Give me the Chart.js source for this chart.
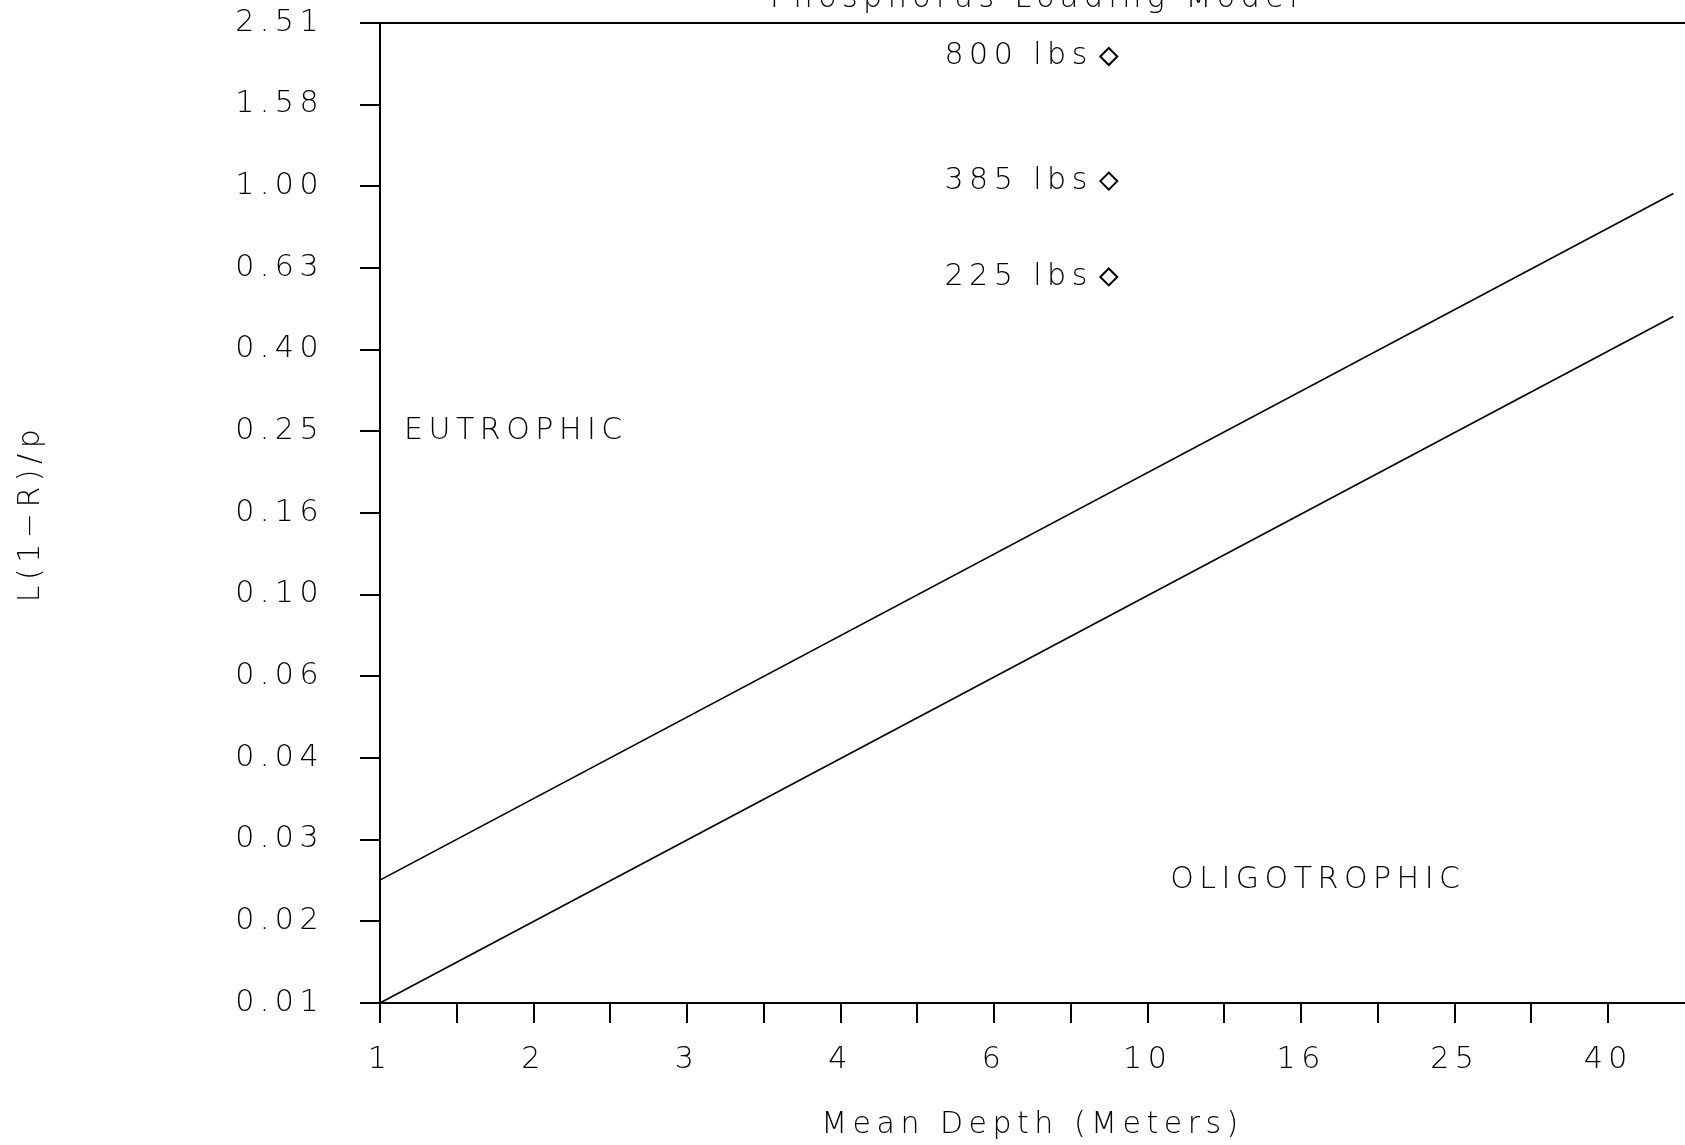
<!DOCTYPE html>
<html>
<head>
<meta charset="utf-8">
<title>Phosphorus Loading Model</title>
<script src="https://cdn.jsdelivr.net/npm/chart.js@4.4.1/dist/chart.umd.min.js"></script>
<style>
  html, body { margin: 0; padding: 0; background: #fff; }
  canvas { display: block; }
</style>
</head>
<body>
<canvas id="chart" width="1685" height="1145"></canvas>
<script>
/* ==========================================================================
   Phosphorus loading model - log/log plot, ticks every 0.2 decade
   ========================================================================== */

// Mean depth axis (m)
const depthTicks = [1, 1.585, 2.512, 3.981, 6.310, 10, 15.85, 25.12, 39.81];
const depthLabels = ['1', '2', '3', '4', '6', '10', '16', '25', '40'];

// L(1-R)/p axis
const loadTicks = [0.01, 0.01585, 0.02512, 0.03981, 0.0631, 0.1, 0.1585, 0.2512, 0.3981, 0.631, 1, 1.585, 2.512];
const loadLabels = ['0.01', '0.02', '0.03', '0.04', '0.06', '0.10', '0.16', '0.25', '0.40', '0.63', '1.00', '1.58', '2.51'];

// Boundary lines (depth, value)
const upperLineDepth = [1, 48.4];
const upperLineValue = [0.02, 0.96];
const lowerLineDepth = [1, 48.4];
const lowerLineValue = [0.01, 0.48];

// Loading points
const pointLabels = ['800 lbs', '385 lbs', '225 lbs'];
const pointDepths = [8.9, 8.9, 8.9];
const pointValues = [2.08, 1.03, 0.60];

const FONT = "'DejaVu Sans', 'Liberation Sans', sans-serif";
const SPACING = '5.5px';

function toXY(xs, ys) {
  return xs.map((x, i) => ({ x: x, y: ys[i] }));
}

// major depth ticks plus an unlabelled tick halfway (in log) between each pair
function depthTickList() {
  const list = [];
  depthTicks.forEach((v, i) => {
    list.push({ value: v, label: depthLabels[i] });
    if (i < depthTicks.length - 1) {
      list.push({ value: Math.sqrt(v * depthTicks[i + 1]), label: '' });
    }
  });
  return list;
}

Chart.defaults.font.family = FONT;
Chart.defaults.font.size = 30;
Chart.defaults.font.weight = 200;
Chart.defaults.font.lineHeight = 1.2;
Chart.defaults.color = '#000';

const annotations = {
  id: 'annotations',
  beforeDraw(chart) {
    chart.ctx.letterSpacing = SPACING;
  },
  afterDatasetsDraw(chart) {
    const ctx = chart.ctx;
    const xs = chart.scales.x;
    const ys = chart.scales.y;
    const area = chart.chartArea;
    ctx.save();
    ctx.letterSpacing = SPACING;
    ctx.fillStyle = '#000';
    ctx.font = '200 30px ' + FONT;

    // labels next to the loading points
    ctx.textAlign = 'right';
    ctx.textBaseline = 'middle';
    chart.getDatasetMeta(2).data.forEach((pt, i) => {
      ctx.fillText(pointLabels[i], pt.x - 16, pt.y);
    });

    // trophic zones
    ctx.textAlign = 'left';
    ctx.fillText('EUTROPHIC', xs.getPixelForValue(1.075), ys.getPixelForValue(0.2512));
    ctx.fillText('OLIGOTROPHIC', xs.getPixelForValue(10.7), ys.getPixelForValue(0.02));

    // title, mostly cut off at the top edge
    ctx.textAlign = 'center';
    ctx.textBaseline = 'alphabetic';
    ctx.fillText('Phosphorus Loading Model', (area.left + area.right) / 2 + 4, 7);

    // top frame line
    ctx.strokeStyle = '#000';
    ctx.lineWidth = 2;
    ctx.beginPath();
    ctx.moveTo(area.left, area.top);
    ctx.lineTo(area.right, area.top);
    ctx.stroke();
    ctx.restore();
  }
};

new Chart(document.getElementById('chart'), {
  type: 'scatter',
  data: {
    datasets: [
      {
        data: toXY(upperLineDepth, upperLineValue),
        showLine: true,
        borderColor: '#000',
        borderWidth: 1.6,
        pointRadius: 0
      },
      {
        data: toXY(lowerLineDepth, lowerLineValue),
        showLine: true,
        borderColor: '#000',
        borderWidth: 1.6,
        pointRadius: 0
      },
      {
        data: toXY(pointDepths, pointValues),
        showLine: false,
        pointStyle: 'rectRot',
        pointRadius: 8.5,
        pointBackgroundColor: '#fff',
        pointBorderColor: '#000',
        pointBorderWidth: 2
      }
    ]
  },
  options: {
    responsive: false,
    animation: false,
    layout: {
      autoPadding: false,
      padding: { top: 23, right: 0, bottom: 0, left: 0 }
    },
    plugins: {
      legend: { display: false },
      tooltip: { enabled: false }
    },
    scales: {
      x: {
        type: 'logarithmic',
        min: 1,
        max: 50.12,
        afterBuildTicks: (scale) => { scale.ticks = depthTickList().map(t => ({ value: t.value })); },
        afterFit: (scale) => {
          scale.height = 142;
          scale.paddingLeft = 0;
          scale.paddingRight = 0;
        },
        ticks: {
          autoSkip: false,
          maxRotation: 0,
          padding: 19,
          callback: (value) => {
            const t = depthTickList().find(d => Math.abs(d.value - value) < 1e-6);
            return t ? t.label : '';
          }
        },
        grid: { drawOnChartArea: false, color: '#000', lineWidth: 2, tickLength: 20 },
        border: { display: true, color: '#000', width: 2 },
        title: {
          display: true,
          text: 'Mean Depth (Meters)',
          padding: { top: 0, bottom: 2 }
        }
      },
      y: {
        type: 'logarithmic',
        min: 0.01,
        max: 2.512,
        afterBuildTicks: (scale) => { scale.ticks = loadTicks.map(v => ({ value: v })); },
        afterFit: (scale) => {
          scale.width = 380;
          scale.paddingTop = 0;
          scale.paddingBottom = 0;
        },
        ticks: {
          autoSkip: false,
          padding: 36,
          callback: (value) => {
            const i = loadTicks.findIndex(v => Math.abs(v - value) < 1e-6);
            return i >= 0 ? loadLabels[i] : '';
          }
        },
        grid: { drawOnChartArea: false, color: '#000', lineWidth: 2, tickLength: 20 },
        border: { display: true, color: '#000', width: 2 },
        title: {
          display: true,
          text: 'L(1\u2212R)/p',
          padding: { top: 13, bottom: 0 }
        }
      }
    }
  },
  plugins: [annotations]
});
</script>
</body>
</html>
